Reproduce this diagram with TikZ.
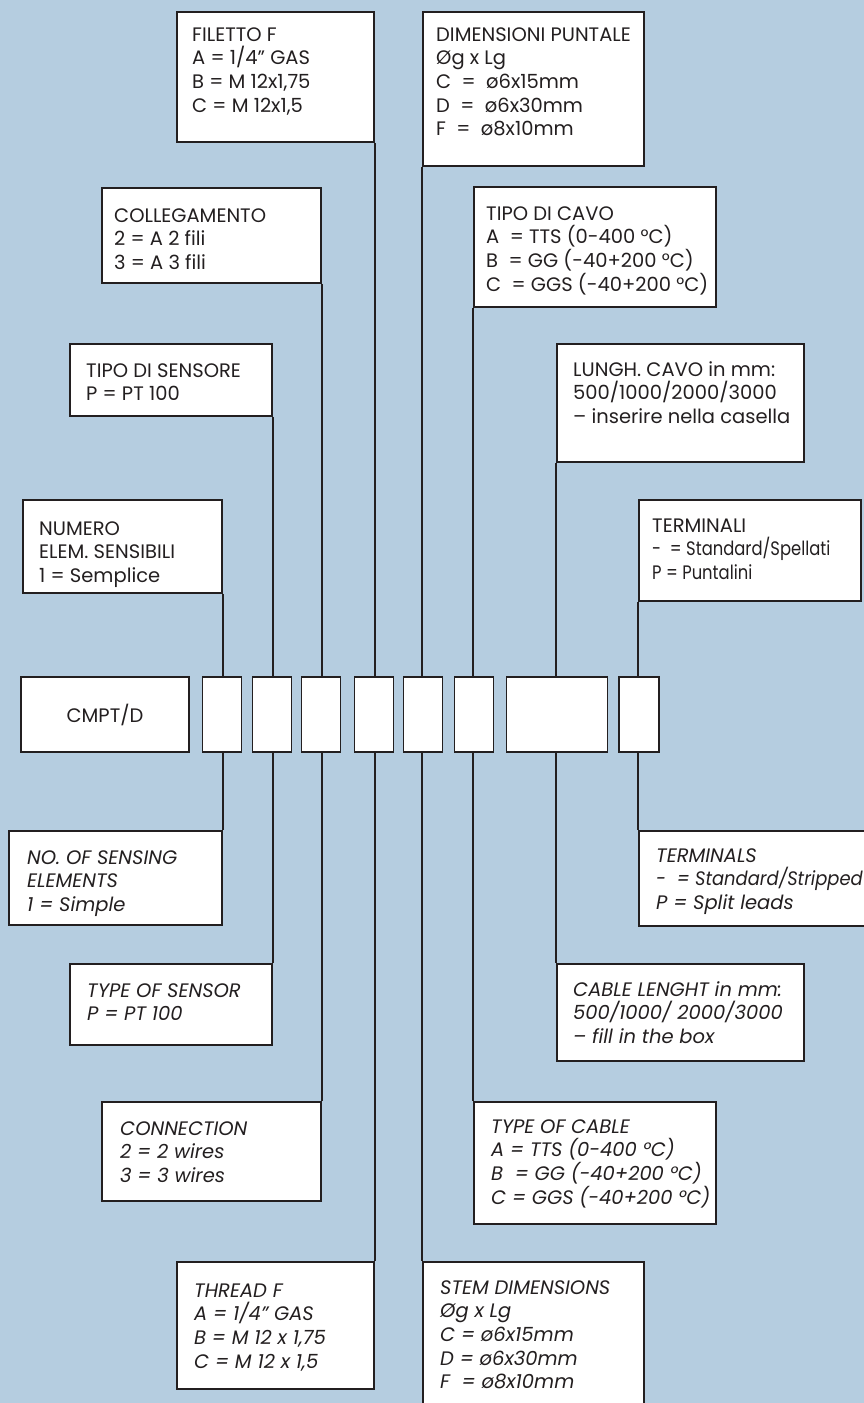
\documentclass[tikz,border=0pt]{standalone}
\usepackage{fontspec}
\usepackage{graphicx}
\setmainfont{Poppins}
\usetikzlibrary{fit}
\definecolor{bgblue}{RGB}{181,205,224}
\definecolor{ink}{RGB}{35,31,32}
\tikzset{
  boxst/.style={draw=ink, line width=1.8pt, fill=white, inner sep=0pt},
  txt/.style={inner sep=0pt, text=ink, font=\fontsize{19.5}{23.7}\selectfont},
  txti/.style={txt, font=\fontsize{19.5}{23.7}\selectfont\itshape},
  conn/.style={draw=ink, line width=1.4pt},
}
\newcommand\rt[1]{\hbox{#1}}
\newcommand\cnd[1]{\scalebox{0.84}[1]{#1}}
\newcommand\cndb[1]{\scalebox{0.92}[1]{#1}}
% name, x1, y1, x2, y2, dx, dy, style, lines
\newcommand\ibox[9]{%
  \node[boxst, fit={(#2,#3) (#4,#5)}] (#1) {};
  \node[#8, anchor=base west] (#1-t) at (#2+#6,#3+#7) {\vtop{#9}};
}
\begin{document}
\begin{tikzpicture}[x=1pt,y=-1pt]
\useasboundingbox (0,0) rectangle (864,1403);
\fill[bgblue] (0,0) rectangle (864,1403);
\clip (0,0) rectangle (864,1403);

% main row
\node[boxst, fit={(21,677) (189,752)}] (main) {};
\node[txt] (main-t) at (105,714.5) {CMPT/D};
\foreach \n/\cx/\w in {b1/222/39, b2/272/39, b3/321/39, b4/374/39, b5/423/39, b6/474/39, b7/557/101, b8/639/40}{
  \node[boxst, minimum width=\w pt, minimum height=75pt] (\n) at (\cx,714.5) {};
}

% top boxes
\ibox{fil}{177}{12}{374}{142}{15}{29}{txt}{\rt{FILETTO F}\rt{A = 1/4” GAS}\rt{B = M 12x1,75}\rt{C = M 12x1,5}}
\ibox{dim}{423}{12}{644}{166}{13}{29}{txt}{\rt{DIMENSIONI PUNTALE}\rt{Øg x Lg}\rt{C \ = \ ø6x15mm}\rt{D \ = \ ø6x30mm}\rt{F \ = \ ø8x10mm}}
\ibox{col}{102}{188}{321}{283}{12}{34}{txt}{\rt{COLLEGAMENTO}\rt{2 = A 2 fili}\rt{3 = A 3 fili}}
\ibox{cav}{474}{187}{716}{307}{12}{33}{txt}{\rt{TIPO DI CAVO}\rt{A \ = TTS (0-400 °C)}\rt{B \ = GG (-40+200 °C)}\rt{C \ = GGS (-40+200 °C)}}
\ibox{sen}{70}{344}{272}{416}{16}{33}{txt}{\rt{TIPO DI SENSORE}\rt{P = PT 100}}
\ibox{lun}{557}{344}{804}{462}{16}{32}{txt}{\rt{LUNGH. CAVO in mm:}\rt{500/1000/2000/3000}\rt{– inserire nella casella}}
\ibox{num}{23}{500}{222}{593}{16}{35}{txt}{\rt{NUMERO}\rt{ELEM. SENSIBILI}\rt{1 = Semplice}}
\ibox{ter}{639}{500}{861}{601}{13}{32}{txt}{\rt{TERMINALI}\rt{\cnd{- \ = Standard/Spellati}}\rt{\cnd{P = Puntalini}}}

% bottom boxes
\ibox{nos}{9}{831}{222}{925}{18}{33}{txti}{\rt{NO. OF SENSING}\rt{ELEMENTS}\rt{1 = Simple}}
\ibox{tms}{639}{831}{870}{926}{17}{31}{txti}{\rt{TERMINALS}\rt{\cndb{- \ = Standard/Stripped}}\rt{P = Split leads}}
\ibox{tos}{70}{964}{272}{1045}{17}{33}{txti}{\rt{TYPE OF SENSOR}\rt{P = PT 100}}
\ibox{cbl}{557}{964}{804}{1061}{16}{32}{txti}{\rt{CABLE LENGHT in mm:}\rt{500/1000/ 2000/3000}\rt{– fill in the box}}
\ibox{con}{102}{1102}{321}{1201}{18}{33}{txti}{\rt{CONNECTION}\rt{2 = 2 wires}\rt{3 = 3 wires}}
\ibox{toc}{474}{1102}{716}{1224}{17}{31}{txti}{\rt{TYPE OF CABLE}\rt{A = TTS (0-400 °C)}\rt{B \ = GG (-40+200 °C)}\rt{C = GGS (-40+200 °C)}}
\ibox{thr}{177}{1262}{374}{1389}{17}{35}{txti}{\rt{THREAD F}\rt{A = 1/4” GAS}\rt{B = M 12 x 1,75}\rt{C = M 12 x 1,5}}
\ibox{stm}{423}{1262}{644}{1420}{17}{32}{txti}{\rt{STEM DIMENSIONS}\rt{Øg x Lg}\rt{C = ø6x15mm}\rt{D = ø6x30mm}\rt{F \ = ø8x10mm}}

% connectors, top
\draw[conn] (num.south east) -- (num.south east |- b1.north);
\draw[conn] (sen.south east) -- (sen.south east |- b2.north);
\draw[conn] (col.south east) -- (col.south east |- b3.north);
\draw[conn] (fil.south east) -- (fil.south east |- b4.north);
\draw[conn] (dim.south west) -- (dim.south west |- b5.north);
\draw[conn] (cav.south west) -- (cav.south west |- b6.north);
\draw[conn] (lun.south west) -- (lun.south west |- b7.north);
\draw[conn] (ter.south west) -- (ter.south west |- b8.north);
% connectors, bottom
\draw[conn] (nos.north east |- b1.south) -- (nos.north east);
\draw[conn] (tos.north east |- b2.south) -- (tos.north east);
\draw[conn] (con.north east |- b3.south) -- (con.north east);
\draw[conn] (thr.north east |- b4.south) -- (thr.north east);
\draw[conn] (stm.north west |- b5.south) -- (stm.north west);
\draw[conn] (toc.north west |- b6.south) -- (toc.north west);
\draw[conn] (cbl.north west |- b7.south) -- (cbl.north west);
\draw[conn] (tms.north west |- b8.south) -- (tms.north west);
\end{tikzpicture}
\end{document}
